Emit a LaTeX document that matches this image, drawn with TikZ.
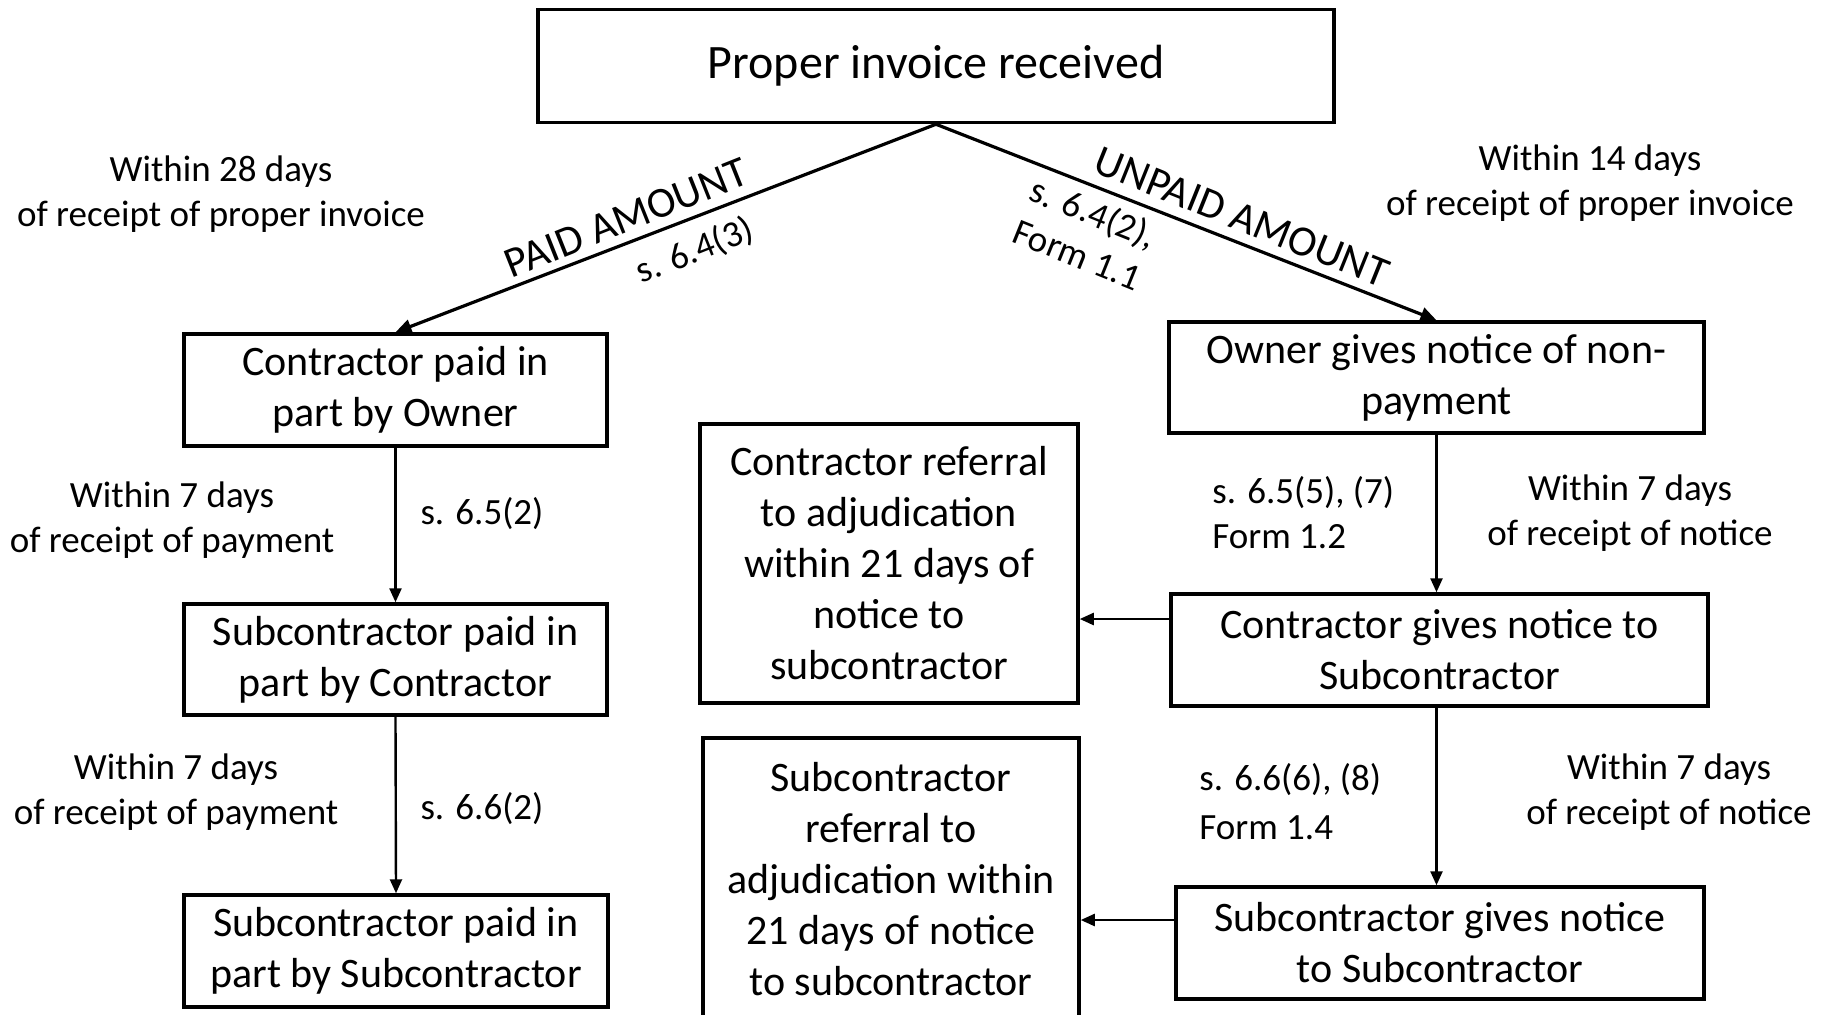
\documentclass[tikz,border=0pt]{standalone}
\usepackage{fontspec}
\setmainfont{Carlito}
\usetikzlibrary{arrows.meta}
\begin{document}
\begin{tikzpicture}[x=0.5pt,y=-0.5pt,
 box/.style={draw, line width=1.75pt, align=center, inner sep=0pt, font=\fontsize{21}{25.5}\selectfont},
 lbl/.style={align=center, inner sep=0pt, font=\fontsize{18.5}{22.5}\selectfont},
 lbll/.style={align=left, inner sep=0pt, font=\fontsize{18.5}{22.5}\selectfont},
 arr/.style={-{Triangle[length=7pt,width=6pt]}, line width=1.2pt},
 darr/.style={-{Triangle[length=8pt,width=7pt]}, line width=1.6pt},
]
\useasboundingbox (0,0) rectangle (1827,1014);
% boxes
\node[box, minimum width=398pt, minimum height=56.5pt, font=\fontsize{24}{29}\selectfont] (top) at (936,66) {Proper invoice received};
\node[box, minimum width=211.5pt, minimum height=56pt] (B1) at (395.5,390) {Contractor paid in\\part by Owner};
\node[box, minimum width=211.5pt, minimum height=55.5pt] (B2) at (395.5,659.5) {Subcontractor paid in\\part by Contractor};
\node[box, minimum width=212pt, minimum height=56pt] (B3) at (396,951) {Subcontractor paid in\\part by Subcontractor};
\node[box, minimum width=189pt, minimum height=139.5pt] (M1) at (889,563.5) {Contractor referral\\to adjudication\\within 21 days of\\notice to\\subcontractor};
\node[box, minimum width=188pt, minimum height=151pt] (M2) at (891,889) {};
\node[align=center, inner sep=0pt, font=\fontsize{21}{25.5}\selectfont, anchor=north] (M2text) at (891,762) {Subcontractor\\referral to\\adjudication within\\21 days of notice\\to subcontractor};
\node[box, minimum width=267.5pt, minimum height=55.5pt] (R1) at (1436.5,377.5) {Owner gives notice of non-\\payment};
\node[box, minimum width=268.5pt, minimum height=56pt] (R2) at (1439.5,650) {Contractor gives notice to\\Subcontractor};
\node[box, minimum width=264pt, minimum height=56pt] (R3) at (1440,943) {Subcontractor gives notice\\to Subcontractor};
% connectors
\draw[darr] (top.south) -- (B1.north);
\draw[darr] (top.south) -- (R1.north);
\draw[arr] (B1.south) -- (B2.north);
\draw[arr] (B2.south) -- (B3.north);
\draw[arr] (R1.south) -- (R1.south |- R2.north);
\draw[arr] (R1.south |- R2.south) -- (R1.south |- R3.north);
\coordinate (h1) at (1100,619);
\coordinate (h2) at (1100,920);
\draw[arr] (R2.west |- h1) -- (M1.east |- h1);
\draw[arr] (R3.west |- h2) -- (M2.east |- h2);
% labels
\node[lbl] (l28) at (221,194) {Within 28 days\\of receipt of proper invoice};
\node[lbl] (l14) at (1590,183) {Within 14 days\\of receipt of proper invoice};
\node[lbl, font=\fontsize{21.5}{26}\selectfont, rotate=21.7] (paid) at (626,218) {PAID AMOUNT};
\node[lbl, rotate=21.7] (s643) at (695,251) {s. 6.4(3)};
\node[lbl, font=\fontsize{21.5}{26}\selectfont, rotate=-21.9] (unpaid) at (1242,217) {UNPAID AMOUNT};
\node[lbll, rotate=-21.9] (s642) at (1086,233) {s. 6.4(2),\\Form 1.1};
\node[lbl] (w7a) at (172,520) {Within 7 days\\of receipt of payment};
\node[lbl] (s652) at (482,514) {s. 6.5(2)};
\node[lbl] (w7b) at (176,792) {Within 7 days\\of receipt of payment};
\node[lbl] (s662) at (482,809) {s. 6.6(2)};
\node[lbll, anchor=west] (s655) at (1212,512.5) {s. 6.5(5), (7)\\Form 1.2};
\node[lbl] (w7c) at (1630,513) {Within 7 days\\of receipt of notice};
\node[lbll, anchor=west, font=\fontsize{18.5}{24.5}\selectfont] (s666) at (1199,801.5) {s. 6.6(6), (8)\\Form 1.4};
\node[lbl] (w7d) at (1669,792) {Within 7 days\\of receipt of notice};
\end{tikzpicture}
\end{document}
